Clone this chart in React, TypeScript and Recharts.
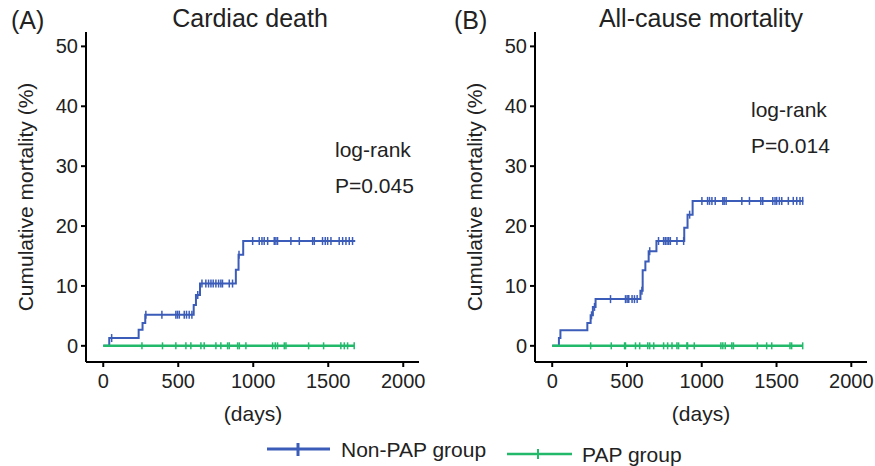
import { ComposedChart, Line, Scatter, XAxis, YAxis } from "recharts";

const DAY_TICKS = [0, 500, 1000, 1500, 2000];
const PCT_TICKS = [0, 10, 20, 30, 40, 50];

// (A) cardiac death
const cardiacNonPapDays = [0, 40, 236, 262, 280, 603, 618, 645, 884, 902, 933, 1680];
const cardiacNonPapPct = [0, 1.3, 2.7, 3.8, 5.2, 6.8, 8.5, 10.4, 12.7, 15.2, 17.5, 17.5];
const cardiacNonPapCensored = [56, 284, 391, 484, 495, 507, 540, 555, 573, 591, 630, 658, 684, 702, 718, 733, 751, 769, 784, 795, 840, 862, 905, 996, 1040, 1058, 1073, 1096, 1140, 1151, 1162, 1251, 1307, 1396, 1407, 1462, 1480, 1496, 1518, 1573, 1596, 1618, 1640, 1662];
const cardiacPapDays = [0, 1673];
const cardiacPapPct = [0, 0];
const cardiacPapCensored = [258, 395, 484, 551, 584, 651, 673, 751, 784, 829, 840, 896, 907, 951, 1129, 1147, 1162, 1207, 1218, 1369, 1469, 1584, 1607, 1629, 1673];

// (B) all-cause mortality
const allNonPapDays = [0, 45, 55, 235, 257, 272, 290, 590, 605, 623, 645, 697, 883, 905, 939, 1679];
const allNonPapPct = [0, 1.3, 2.6, 3.8, 5.1, 6.5, 7.8, 9.2, 12.6, 14.1, 15.8, 17.5, 19.7, 21.9, 24.2, 24.2];
const allNonPapCensored = [263, 283, 390, 490, 501, 512, 534, 550, 568, 600, 652, 711, 745, 756, 768, 779, 790, 834, 879, 919, 1001, 1039, 1052, 1068, 1090, 1141, 1150, 1163, 1268, 1319, 1395, 1408, 1475, 1490, 1501, 1519, 1535, 1579, 1612, 1635, 1657, 1675];
const allPapDays = [0, 1675];
const allPapPct = [0, 0];
const allPapCensored = [257, 395, 484, 490, 557, 585, 639, 652, 679, 745, 772, 801, 834, 845, 901, 905, 950, 1128, 1141, 1157, 1201, 1212, 1372, 1434, 1468, 1590, 1601, 1675];

const BLUE = "#3b5cb8";
const GREEN = "#22b96b";
const TEXT = "#222";
const FONT = "'Liberation Sans', Arial, sans-serif";

const toPoints = (days: number[], pct: number[]) => days.map((t, i) => ({ t, v: pct[i] }));

// value of the step curve at a censoring time
const onCurve = (days: number[], pct: number[], censored: number[]) =>
  censored.map(t => {
    let v = pct[0];
    days.forEach((d, i) => {
      if (d <= t) v = pct[i];
    });
    return { t, v };
  });

const censorMark = (color: string, half: number, width: number) => (props: any) => (
  <line
    x1={props.cx}
    x2={props.cx}
    y1={props.cy - half}
    y2={props.cy + half}
    stroke={color}
    strokeWidth={width}
  />
);

interface PanelProps {
  left: number;
  width: number;
  rightMargin: number;
  nonPap: { t: number; v: number }[];
  nonPapCens: { t: number; v: number }[];
  pap: { t: number; v: number }[];
  papCens: { t: number; v: number }[];
}

function Panel({ left, width, rightMargin, nonPap, nonPapCens, pap, papCens }: PanelProps) {
  const axisStyle = { stroke: "#000", strokeWidth: 2 };
  return (
    <div style={{ position: "absolute", left, top: 0 }}>
      <ComposedChart width={width} height={400} margin={{ top: 32, right: rightMargin, left: 0, bottom: 0 }}>
        <XAxis
          type="number"
          dataKey="t"
          domain={[-115, 2105]}
          ticks={DAY_TICKS}
          allowDataOverflow
          height={38}
          tickSize={5}
          tickMargin={7}
          axisLine={axisStyle}
          tickLine={axisStyle}
          tick={{ fill: TEXT, fontSize: 20, fontFamily: FONT }}
        />
        <YAxis
          type="number"
          dataKey="v"
          domain={[-2.7, 52.4]}
          ticks={PCT_TICKS}
          allowDataOverflow
          width={86}
          tickSize={5}
          tickMargin={3}
          axisLine={axisStyle}
          tickLine={axisStyle}
          tick={{ fill: TEXT, fontSize: 20, fontFamily: FONT }}
        />
        <Line data={nonPap} dataKey="v" type="stepAfter" stroke={BLUE} strokeWidth={2} dot={false} isAnimationActive={false} />
        <Scatter data={nonPapCens} dataKey="v" shape={censorMark(BLUE, 4, 1.5)} isAnimationActive={false} />
        <Line data={pap} dataKey="v" type="stepAfter" stroke={GREEN} strokeWidth={2.5} dot={false} isAnimationActive={false} />
        <Scatter data={papCens} dataKey="v" shape={censorMark(GREEN, 3.5, 1.5)} isAnimationActive={false} />
      </ComposedChart>
    </div>
  );
}

export default function App() {
  return (
    <div style={{ position: "absolute", left: 0, top: 0, width: 875, height: 466, background: "#fff", fontFamily: FONT }}>
      <Panel
        left={0}
        width={440}
        rightMargin={21}
        nonPap={toPoints(cardiacNonPapDays, cardiacNonPapPct)}
        nonPapCens={onCurve(cardiacNonPapDays, cardiacNonPapPct, cardiacNonPapCensored)}
        pap={toPoints(cardiacPapDays, cardiacPapPct)}
        papCens={onCurve(cardiacPapDays, cardiacPapPct, cardiacPapCensored)}
      />
      <Panel
        left={449}
        width={426}
        rightMargin={8}
        nonPap={toPoints(allNonPapDays, allNonPapPct)}
        nonPapCens={onCurve(allNonPapDays, allNonPapPct, allNonPapCensored)}
        pap={toPoints(allPapDays, allPapPct)}
        papCens={onCurve(allPapDays, allPapPct, allPapCensored)}
      />
      <svg width={875} height={466} style={{ position: "absolute", left: 0, top: 0, pointerEvents: "none" }} fontFamily={FONT} fill={TEXT}>
        <text x={11} y={29} fontSize={25}>(A)</text>
        <text x={250} y={27} fontSize={25} textAnchor="middle">Cardiac death</text>
        <text x={454} y={29} fontSize={25}>(B)</text>
        <text x={701} y={27} fontSize={25} textAnchor="middle">All-cause mortality</text>

        <text transform="translate(33,197) rotate(-90)" fontSize={21} textAnchor="middle">Cumulative mortality (%)</text>
        <text transform="translate(482,197) rotate(-90)" fontSize={21} textAnchor="middle">Cumulative mortality (%)</text>
        <text x={253} y={421} fontSize={21} textAnchor="middle">(days)</text>
        <text x={701} y={421} fontSize={21} textAnchor="middle">(days)</text>

        <text x={335} y={157} fontSize={21}>log-rank</text>
        <text x={335} y={193} fontSize={21}>P=0.045</text>
        <text x={751} y={117} fontSize={21}>log-rank</text>
        <text x={751} y={153} fontSize={21}>P=0.014</text>

        <line x1={267} x2={330} y1={449} y2={449} stroke={BLUE} strokeWidth={3} />
        <line x1={298} x2={298} y1={443} y2={456} stroke={BLUE} strokeWidth={3} />
        <text x={341} y={457} fontSize={21}>Non-PAP group</text>
        <line x1={507} x2={572} y1={454} y2={454} stroke={GREEN} strokeWidth={2.5} />
        <line x1={538} x2={538} y1={449} y2={459} stroke={GREEN} strokeWidth={2} />
        <text x={582} y={462} fontSize={21}>PAP group</text>
      </svg>
    </div>
  );
}
